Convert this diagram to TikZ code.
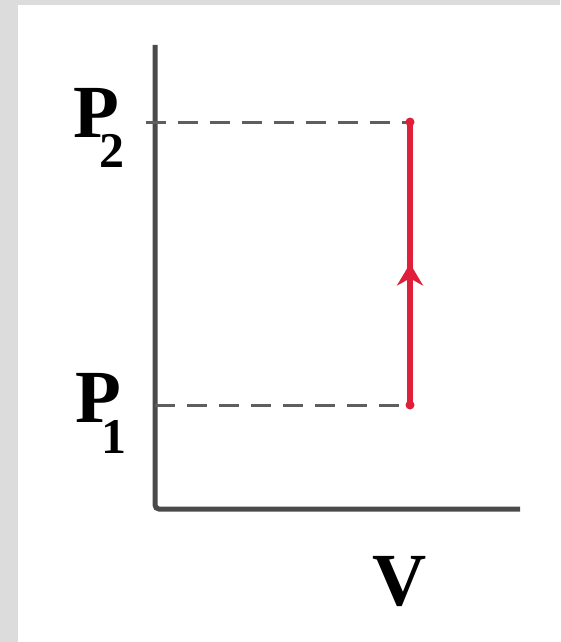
\documentclass[tikz,border=0pt]{standalone}
\usepackage{fontspec}
\setmainfont{Liberation Serif}
\usetikzlibrary{arrows.meta,decorations.markings}
\definecolor{framegray}{HTML}{DCDCDC}
\definecolor{axisgray}{HTML}{4A4A4A}
\definecolor{dashgray}{HTML}{5E5E5E}
\definecolor{procred}{HTML}{E0203A}
\newcommand{\subdigit}[2]{\kern-20pt\raisebox{-#1}{\fontsize{50}{54}\selectfont\bfseries #2}}
\tikzset{
  axisline/.style={draw=axisgray, line width=5pt, rounded corners=4pt},
  levelline/.style={draw=dashgray, line width=3pt, dash pattern=on 20pt off 12pt},
  process/.style={draw=procred, line width=5.5pt,
    postaction={decorate, decoration={markings,
      mark=at position 0.5 with {\arrow{Stealth[length=22pt,width=26pt,fill=procred]}}}}},
  biglab/.style={inner sep=0pt, anchor=base west, font=\fontsize{75}{80}\selectfont\bfseries},
}
\begin{document}
\begin{tikzpicture}[x=1pt,y=-1pt]
\useasboundingbox (0,0) rectangle (560,642);
\fill[framegray] (0,0) rectangle (560,642);
\fill[white] (18,5) rectangle (560,642);
\coordinate (ytop) at (155,45);
\coordinate (O) at (155,509);
\coordinate (xend) at (520,509);
\coordinate (B) at (410,122);
\coordinate (A) at (410,405);
\coordinate (p2s) at (146,122);
\coordinate (p1s) at (155,405);
\draw[axisline] (ytop) -- (O) -- (xend);
\draw[levelline] (p2s) -- (B);
\draw[levelline] (p1s) -- (A);
\draw[process] (A) -- (B);
\fill[procred] (A) circle[radius=4.5pt];
\fill[procred] (B) circle[radius=4.5pt];
\node[biglab] (P2) at (73,137) {P\subdigit{30pt}{2}};
\node[biglab] (P1) at (75,422) {P\subdigit{31pt}{1}};
\node[biglab] (V) at (372,605) {V};
\end{tikzpicture}
\end{document}
